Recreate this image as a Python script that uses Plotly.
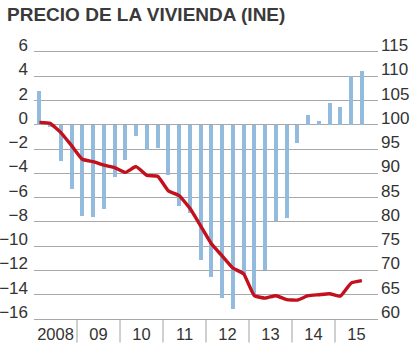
import plotly.graph_objects as go

quarters = list(range(31))  # 2008Q1 .. 2015Q3
year_labels = ["2008", "09", "10", "11", "12", "13", "14", "15"]
year_centers = [1.5 + 4 * i for i in range(len(year_labels))]
year_bounds = [3.5 + 4 * i for i in range(7)]

# Annual rate of change (%), left axis
tasa = [2.8, -0.2, -3.0, -5.3, -7.5, -7.6, -6.9, -4.3,
        -2.9, -0.9, -2.1, -1.9, -4.1, -6.7, -7.3, -11.1,
        -12.5, -14.3, -15.2, -12.4, -13.9, -12.0, -7.9, -7.7,
        -1.5, 0.8, 0.3, 1.8, 1.5, 4.0, 4.4]

# Price index (2007 = 100), right axis
indice = [100.5, 100.3, 98.4, 95.7, 92.9, 92.4, 91.7, 91.2,
          90.2, 91.4, 89.6, 89.4, 86.4, 85.4, 82.8, 79.2,
          75.5, 73.0, 70.5, 69.3, 64.8, 64.3, 64.8, 64.0,
          63.9, 64.8, 65.0, 65.2, 64.7, 67.4, 67.9]

left_ticks = list(range(-16, 7, 2))
right_ticks = list(range(60, 116, 5))

fig = go.Figure()
fig.add_trace(go.Bar(x=quarters, y=tasa, width=0.38,
                     marker=dict(color="#93bbdd", line=dict(width=0)),
                     yaxis="y", showlegend=False))
fig.add_trace(go.Scatter(x=quarters, y=indice, mode="lines",
                         line=dict(color="#c3101d", width=3.4, shape="spline", smoothing=0.4),
                         yaxis="y2", showlegend=False))

for b in year_bounds:
    fig.add_shape(type="line", xref="x", yref="paper", x0=b, x1=b, y0=0, y1=-0.088,
                  line=dict(color="#a0a0a0", width=1))

font_family = "Liberation Sans, Arial, sans-serif"
fig.update_layout(
    width=414, height=345,
    margin=dict(l=34, r=36, t=52, b=26),
    paper_bgcolor="white", plot_bgcolor="white",
    font=dict(family=font_family, color="#333333", size=17),
    title=dict(text="<b>PRECIO DE LA VIVIENDA (INE)</b>", x=0.017, xanchor="left",
               y=0.957, yanchor="middle", font=dict(size=19, color="#3a3a3a")),
    bargap=0,
    xaxis=dict(range=[-0.5, 31.5], tickvals=year_centers, ticktext=year_labels,
               showgrid=False, zeroline=False, showline=True, mirror=True,
               linecolor="#a8a8a8", linewidth=1, ticks="", automargin=False,
               tickfont=dict(size=16.5), ticklabelstandoff=0, fixedrange=True),
    yaxis=dict(range=[-16, 6], tickvals=left_ticks, showgrid=True, gridcolor="#a8a8a8",
               gridwidth=1, zeroline=False, showline=False, ticks="", automargin=False,
               tickfont=dict(size=17), ticklabelshift=-7, ticklabelstandoff=5),
    yaxis2=dict(range=[60, 115], tickvals=right_ticks, overlaying="y", side="right",
                showgrid=False, zeroline=False, showline=False, ticks="", automargin=False,
                tickfont=dict(size=17), ticklabelshift=-7, ticklabelstandoff=2),
)

fig.write_html("out.html")
